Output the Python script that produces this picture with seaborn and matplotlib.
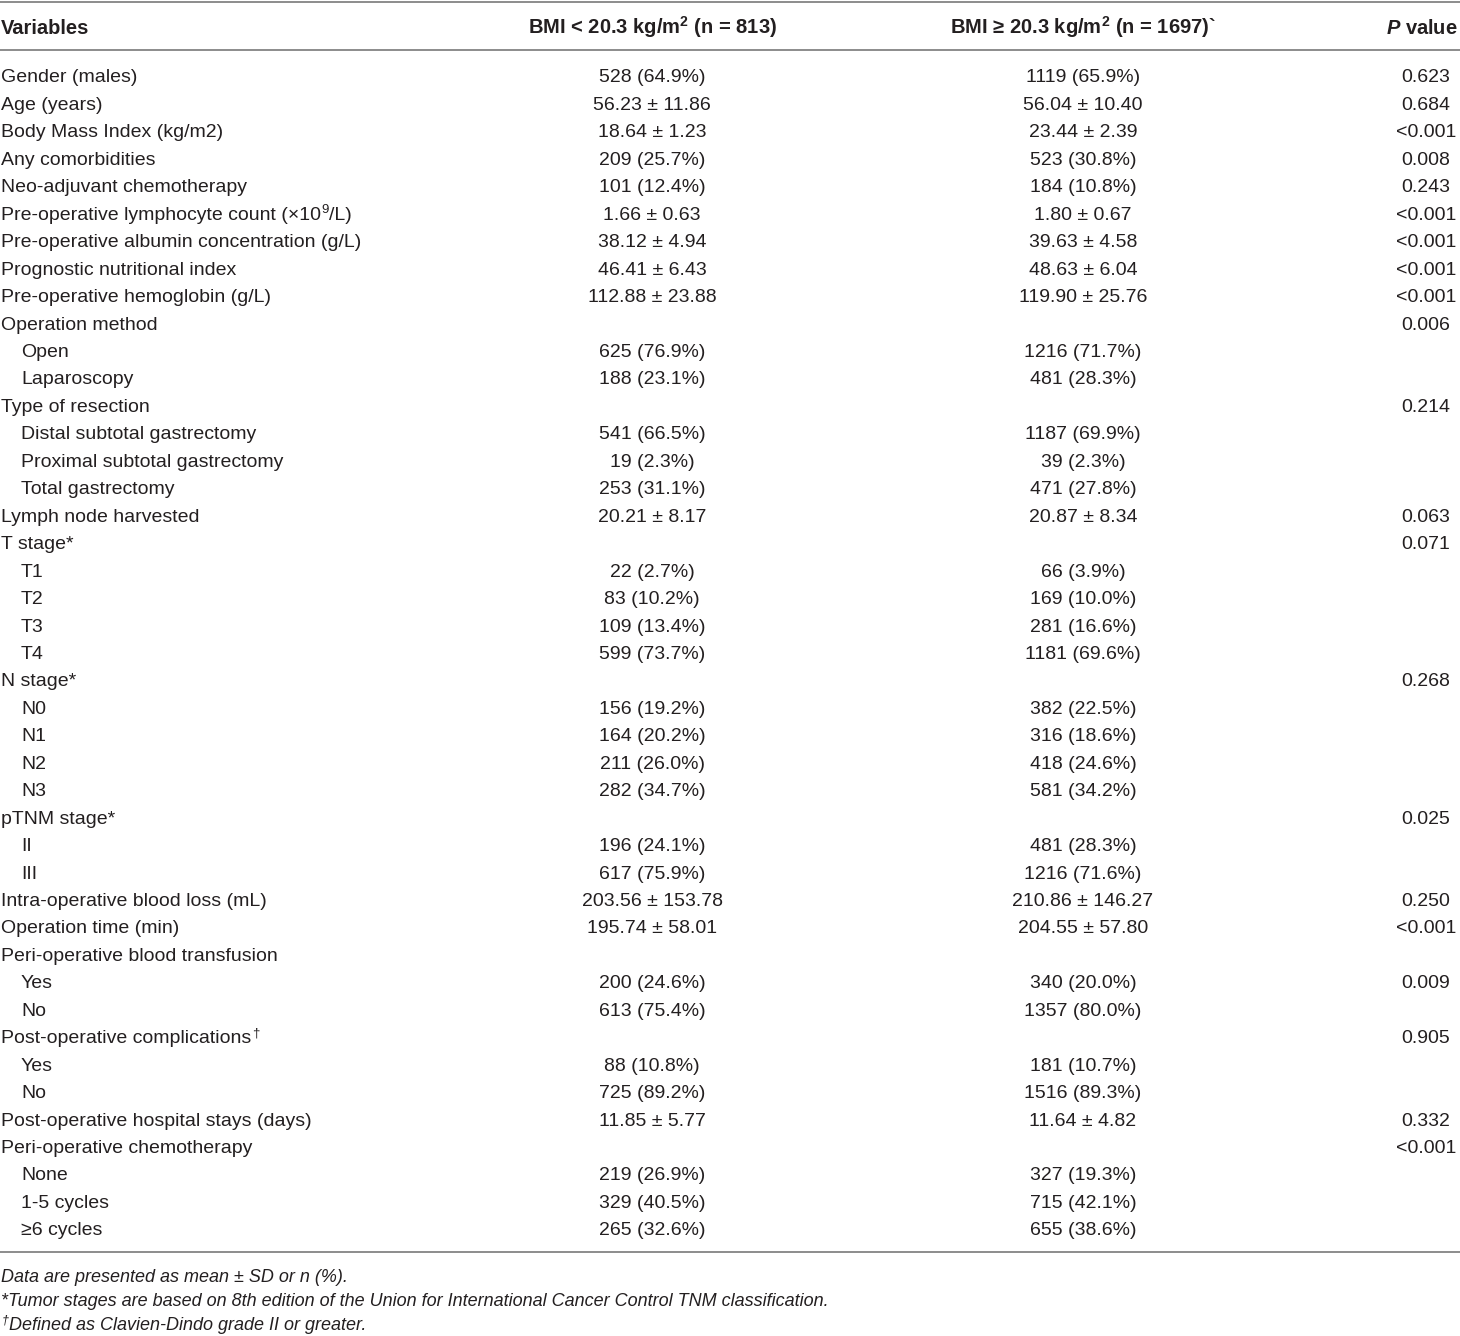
import matplotlib
matplotlib.use('Agg')
import matplotlib.pyplot as plt
import seaborn as sns

# Baseline characteristics by BMI group ("^x" marks a superscript character)
variables = [
    'Gender (males)', 'Age (years)', 'Body Mass Index (kg/m2)', 'Any comorbidities',
    'Neo-adjuvant chemotherapy', 'Pre-operative lymphocyte count (×10^9/L)',
    'Pre-operative albumin concentration (g/L)', 'Prognostic nutritional index',
    'Pre-operative hemoglobin (g/L)', 'Operation method', 'Open', 'Laparoscopy',
    'Type of resection', 'Distal subtotal gastrectomy', 'Proximal subtotal gastrectomy',
    'Total gastrectomy', 'Lymph node harvested', 'T stage*', 'T1', 'T2', 'T3', 'T4',
    'N stage*', 'N0', 'N1', 'N2', 'N3', 'pTNM stage*', 'II', 'III',
    'Intra-operative blood loss (mL)', 'Operation time (min)',
    'Peri-operative blood transfusion', 'Yes', 'No',
    'Post-operative complications^†', 'Yes', 'No',
    'Post-operative hospital stays (days)', 'Peri-operative chemotherapy',
    'None', '1-5 cycles', '≥6 cycles',
]
sub_level = [
    0, 0, 0, 0, 0, 0, 0, 0, 0, 0, 1, 1,
    0, 1, 1, 1, 0, 0, 1, 1, 1, 1,
    0, 1, 1, 1, 1, 0, 1, 1,
    0, 0, 0, 1, 1, 0, 1, 1,
    0, 0, 1, 1, 1,
]
bmi_low = [
    '528 (64.9%)', '56.23 ± 11.86', '18.64 ± 1.23', '209 (25.7%)', '101 (12.4%)',
    '1.66 ± 0.63', '38.12 ± 4.94', '46.41 ± 6.43', '112.88 ± 23.88', '',
    '625 (76.9%)', '188 (23.1%)', '', '541 (66.5%)', '19 (2.3%)', '253 (31.1%)',
    '20.21 ± 8.17', '', '22 (2.7%)', '83 (10.2%)', '109 (13.4%)', '599 (73.7%)',
    '', '156 (19.2%)', '164 (20.2%)', '211 (26.0%)', '282 (34.7%)', '',
    '196 (24.1%)', '617 (75.9%)', '203.56 ± 153.78', '195.74 ± 58.01', '',
    '200 (24.6%)', '613 (75.4%)', '', '88 (10.8%)', '725 (89.2%)', '11.85 ± 5.77',
    '', '219 (26.9%)', '329 (40.5%)', '265 (32.6%)',
]
bmi_high = [
    '1119 (65.9%)', '56.04 ± 10.40', '23.44 ± 2.39', '523 (30.8%)', '184 (10.8%)',
    '1.80 ± 0.67', '39.63 ± 4.58', '48.63 ± 6.04', '119.90 ± 25.76', '',
    '1216 (71.7%)', '481 (28.3%)', '', '1187 (69.9%)', '39 (2.3%)', '471 (27.8%)',
    '20.87 ± 8.34', '', '66 (3.9%)', '169 (10.0%)', '281 (16.6%)', '1181 (69.6%)',
    '', '382 (22.5%)', '316 (18.6%)', '418 (24.6%)', '581 (34.2%)', '',
    '481 (28.3%)', '1216 (71.6%)', '210.86 ± 146.27', '204.55 ± 57.80', '',
    '340 (20.0%)', '1357 (80.0%)', '', '181 (10.7%)', '1516 (89.3%)', '11.64 ± 4.82',
    '', '327 (19.3%)', '715 (42.1%)', '655 (38.6%)',
]
p_values = [
    '0.623', '0.684', '<0.001', '0.008', '0.243', '<0.001', '<0.001', '<0.001',
    '<0.001', '0.006', '', '', '0.214', '', '', '', '0.063', '0.071', '', '', '',
    '', '0.268', '', '', '', '', '0.025', '', '', '0.250', '<0.001', '', '0.009',
    '', '0.905', '', '', '0.332', '<0.001', '', '', '',
]
headers = ['Variables', r'BMI < 20.3 kg/m$^\mathbf{2}$ (n = 813)',
           r'BMI ≥ 20.3 kg/m$^\mathbf{2}$ (n = 1697)`', r'$\mathbfit{P}$ value']
footnotes = [
    'Data are presented as mean ± SD or n (%).',
    '*Tumor stages are based on 8th edition of the Union for International Cancer Control TNM classification.',
    '^†Defined as Clavien-Dindo grade II or greater.',
]

sns.set_theme(style='white')
fam = 'Liberation Sans'
plt.rcParams['font.family'] = [fam, 'DejaVu Sans']
plt.rcParams['mathtext.fontset'] = 'custom'
plt.rcParams['mathtext.rm'] = fam
plt.rcParams['mathtext.it'] = fam + ':italic'
plt.rcParams['mathtext.bf'] = fam + ':bold'
plt.rcParams['mathtext.bfit'] = fam + ':italic:bold'

W, H = 1460, 1336
fig = plt.figure(figsize=(W / 100, H / 100), dpi=100)
ax = fig.add_axes([0, 0, 1, 1])
ax.set_xlim(0, W)
ax.set_ylim(H, 0)
ax.axis('off')
renderer = fig.canvas.get_renderer()

txt_color = '#231f20'
line_color = '#8c8c8c'
fs = 14
first_y = 76
step = 27.45
col_x = [1, 652, 1083, 1426]
indent = 20
shift = 6.5  # baseline below visual centre


def put(x, y, s, size, **kw):
    # left-aligned text; returns x of its right end
    if not s:
        return x
    t = ax.text(x, y, s, ha='left', va='baseline', fontsize=size, color=txt_color, **kw)
    bb = t.get_window_extent(renderer)
    return ax.transData.inverted().transform((bb.x1, bb.y0))[0]


def put_rich(x, y, s, size, sup_size, rise, **kw):
    # handles one "^x" superscript inside a string
    if '^' not in s:
        return put(x, y, s, size, **kw)
    pre, rest = s.split('^', 1)
    x = put(x, y, pre, size, **kw)
    x = put(x + 0.5, y - rise, rest[0], sup_size, **kw) + 0.5
    return put(x, y, rest[1:], size, **kw)


# rules
for y in [2, 50, 1252]:
    ax.axhline(y, color=line_color, lw=1.4)

# header
hfs = 14.5
ax.text(col_x[0], 27 + shift, headers[0], ha='left', va='baseline',
        fontsize=hfs, fontweight='bold', color=txt_color)
for j in (1, 2):
    ax.text(col_x[j], 27 + shift, headers[j], ha='center', va='baseline',
            fontsize=hfs, fontweight='bold', color=txt_color)
ax.text(1458, 27 + shift, headers[3], ha='right', va='baseline',
        fontsize=hfs, fontweight='bold', color=txt_color)

# body
for i, name in enumerate(variables):
    y = first_y + i * step + shift
    put_rich(col_x[0] + indent * sub_level[i], y, name, fs, 9.5, 7)
    ax.text(col_x[1], y, bmi_low[i], ha='center', va='baseline', fontsize=fs, color=txt_color)
    ax.text(col_x[2], y, bmi_high[i], ha='center', va='baseline', fontsize=fs, color=txt_color)
    ax.text(col_x[3], y, p_values[i], ha='center', va='baseline', fontsize=fs, color=txt_color)

# footnotes
ffs = 13
for k, note in enumerate(footnotes):
    y = 1276 + k * 24 + 5.5
    put_rich(col_x[0], y, note, ffs, 9, 6, fontstyle='italic')

fig.savefig('out.png', dpi=100)
